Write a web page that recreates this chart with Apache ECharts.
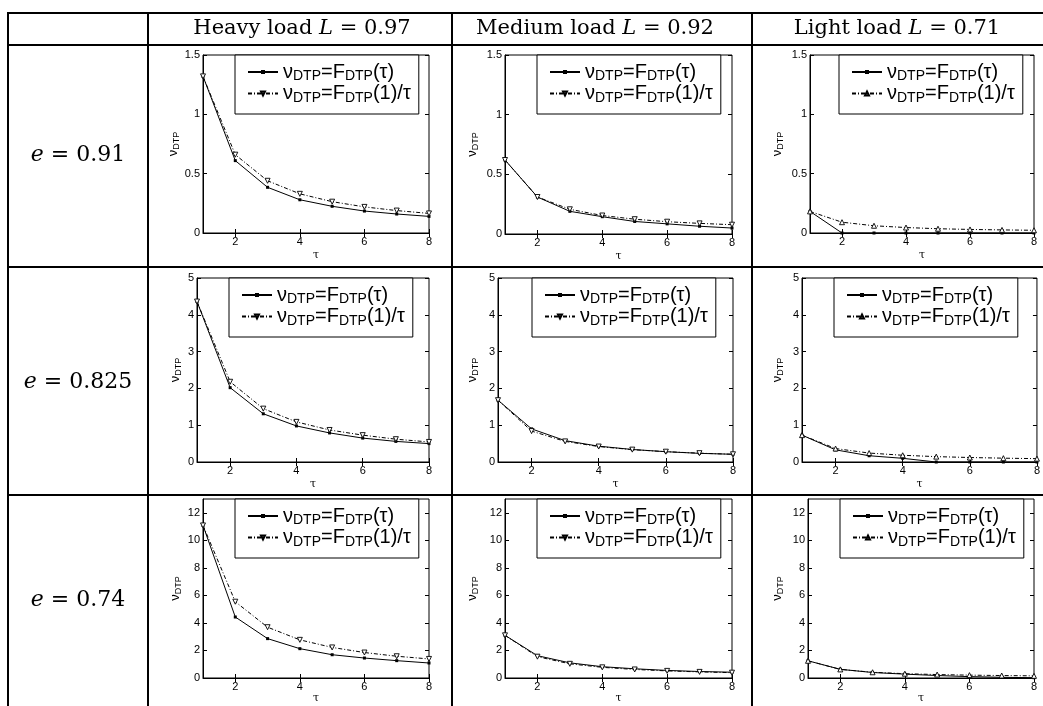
<!DOCTYPE html>
<html>
<head>
<meta charset="utf-8">
<script src="https://cdn.jsdelivr.net/npm/echarts@6/dist/echarts.min.js"></script>
<style>
html, body { margin: 0; padding: 0; background: #fff; }
#main { width: 1043px; height: 706px; }
</style>
</head>
<body>
<div id="main"></div>
<script>
// x axis (tau) and its labelled ticks
var taus = [1, 2, 3, 4, 5, 6, 7, 8];
var xTicks = [2, 4, 6, 8];

// table headers
var loadNames = ['Heavy load', 'Medium load', 'Light load'];
var loadValues = ['0.97', '0.92', '0.71'];
var eValues = ['0.91', '0.825', '0.74'];

// y axis range per table row
var yMax = [1.5, 5, 13];
var yTicks = [[0, 0.5, 1, 1.5], [0, 1, 2, 3, 4, 5], [0, 2, 4, 6, 8, 10, 12]];

// e = 0.91
var heavy91Fdtp = [1.32, 0.61, 0.385, 0.28, 0.225, 0.185, 0.16, 0.14];
var heavy91Ratio = [1.32, 0.66, 0.44, 0.33, 0.264, 0.22, 0.189, 0.165];
var medium91Fdtp = [0.62, 0.31, 0.19, 0.145, 0.105, 0.085, 0.065, 0.05];
var medium91Ratio = [0.62, 0.31, 0.207, 0.155, 0.124, 0.103, 0.089, 0.078];
var light91Fdtp = [0.182, 0, 0, 0, 0, 0, 0, 0];
var light91Ratio = [0.182, 0.091, 0.061, 0.046, 0.036, 0.03, 0.026, 0.023];
// e = 0.825
var heavy825Fdtp = [4.36, 2.02, 1.31, 0.98, 0.79, 0.65, 0.56, 0.5];
var heavy825Ratio = [4.36, 2.18, 1.45, 1.09, 0.87, 0.73, 0.62, 0.545];
var medium825Fdtp = [1.68, 0.9, 0.58, 0.43, 0.34, 0.28, 0.235, 0.21];
var medium825Ratio = [1.68, 0.84, 0.56, 0.42, 0.336, 0.28, 0.24, 0.21];
var light825Fdtp = [0.73, 0.33, 0.17, 0.1, 0, 0, 0, 0];
var light825Ratio = [0.73, 0.365, 0.243, 0.183, 0.146, 0.122, 0.104, 0.091];
// e = 0.74
var heavy74Fdtp = [11.08, 4.43, 2.86, 2.13, 1.69, 1.45, 1.26, 1.09];
var heavy74Ratio = [11.08, 5.54, 3.69, 2.77, 2.22, 1.85, 1.58, 1.385];
var medium74Fdtp = [3.1, 1.62, 1.1, 0.82, 0.67, 0.55, 0.47, 0.42];
var medium74Ratio = [3.1, 1.55, 1.03, 0.775, 0.62, 0.517, 0.443, 0.388];
var light74Fdtp = [1.25, 0.63, 0.4, 0.28, 0.18, 0.1, 0.05, 0.02];
var light74Ratio = [1.25, 0.625, 0.417, 0.313, 0.25, 0.208, 0.179, 0.156];

var panels = [
  [heavy91Fdtp, heavy91Ratio], [medium91Fdtp, medium91Ratio], [light91Fdtp, light91Ratio],
  [heavy825Fdtp, heavy825Ratio], [medium825Fdtp, medium825Ratio], [light825Fdtp, light825Ratio],
  [heavy74Fdtp, heavy74Ratio], [medium74Fdtp, medium74Ratio], [light74Fdtp, light74Ratio]
];

// layout (pixels): plot boxes, legend corners
var plotBox = [
  [203, 55, 226, 178], [505, 55, 227, 179], [810, 55, 224, 178],
  [197, 278, 232, 184], [498, 278, 235, 184], [802, 278, 236, 184],
  [203, 499, 226, 179], [505, 499, 227, 179], [808, 499, 226, 179]
];
var legendAt = [
  [235, 55], [537, 55], [839, 55],
  [229, 278], [532, 278], [834, 278],
  [235, 499], [537, 499], [840, 499]
];
var yNameRight = [183, 480, 785];
var xNameGap = [17, 17, 15];
var colLines = [8, 148, 452, 752];
var rowLines = [13, 45, 267, 495];
var headerX = [302, 595, 897];
var rowLabelY = [155, 382, 600];

var sansFont = 'Liberation Sans';
var serifFont = 'DejaVu Serif';

var grid = [], xAxis = [], yAxis = [], series = [], legend = [];

function legendText (name) {
  if (name.charAt(0) === 'f') return '{v|ν}{s|DTP}{t|=F}{s|DTP}{t|(τ)}';
  return '{v|ν}{s|DTP}{t|=F}{s|DTP}{t|(1)/τ}';
}

for (var i = 0; i < 9; i++) {
  var r = Math.floor(i / 3), c = i % 3;
  var b = plotBox[i];
  grid.push({
    left: b[0], top: b[1], width: b[2], height: b[3],
    show: true, borderColor: '#000', borderWidth: 1, backgroundColor: 'transparent'
  });
  // bottom / left axes with labels
  xAxis.push({
    type: 'value', gridIndex: i, min: 1, max: 8,
    axisLine: { show: true, onZero: false, lineStyle: { color: '#000', width: 1 } },
    axisTick: { show: true, inside: true, length: 4, customValues: xTicks, lineStyle: { color: '#000' } },
    axisLabel: { customValues: xTicks, fontSize: 11, fontFamily: sansFont, color: '#000', margin: 3 },
    splitLine: { show: false },
    name: 'τ', nameLocation: 'middle', nameGap: xNameGap[r],
    nameTextStyle: { fontSize: 11, fontFamily: serifFont, color: '#000', verticalAlign: 'top' }
  });
  yAxis.push({
    type: 'value', gridIndex: i, min: 0, max: yMax[r],
    axisLine: { show: true, onZero: false, lineStyle: { color: '#000', width: 1 } },
    axisTick: { show: true, inside: true, length: 4, customValues: yTicks[r], lineStyle: { color: '#000' } },
    axisLabel: { customValues: yTicks[r], fontSize: 11, fontFamily: sansFont, color: '#000', margin: 3 },
    splitLine: { show: false },
    name: '{v|ν}{s|DTP}', nameLocation: 'middle', nameGap: b[0] - yNameRight[c],
    nameTextStyle: {
      fontFamily: sansFont, color: '#000',
      rich: {
        v: { fontSize: 13, fontFamily: sansFont, lineHeight: 15 },
        s: { fontSize: 9, fontFamily: sansFont, lineHeight: 9, verticalAlign: 'bottom' }
      }
    }
  });
}
// mirrored ticks on top / right of each box
for (var j = 0; j < 9; j++) {
  var rr = Math.floor(j / 3);
  xAxis.push({
    type: 'value', gridIndex: j, min: 1, max: 8, position: 'top',
    axisLine: { show: false },
    axisTick: { show: true, inside: true, length: 4, customValues: xTicks, lineStyle: { color: '#000' } },
    axisLabel: { show: false }, splitLine: { show: false }
  });
  yAxis.push({
    type: 'value', gridIndex: j, min: 0, max: yMax[rr], position: 'right',
    axisLine: { show: false },
    axisTick: { show: true, inside: true, length: 4, customValues: yTicks[rr], lineStyle: { color: '#000' } },
    axisLabel: { show: false }, splitLine: { show: false }
  });
}

for (var k = 0; k < 9; k++) {
  var col = k % 3;
  var fdtp = panels[k][0], ratio = panels[k][1];
  series.push({
    type: 'line', name: 'f' + k, xAxisIndex: k, yAxisIndex: k,
    data: taus.map(function (t, n) { return [t, fdtp[n]] }),
    symbol: 'rect', symbolSize: 3, showAllSymbol: true,
    lineStyle: { color: '#000', width: 1 },
    itemStyle: { color: '#000' }
  });
  series.push({
    type: 'line', name: 'r' + k, xAxisIndex: k, yAxisIndex: k,
    data: taus.map(function (t, n) { return [t, ratio[n]] }),
    symbol: 'triangle', symbolSize: 5, symbolRotate: col < 2 ? 180 : 0, showAllSymbol: true,
    lineStyle: { color: '#000', width: 1, type: [4, 2, 1, 2] },
    itemStyle: { color: '#fff', borderColor: '#000', borderWidth: 0.9 }
  });
  legend.push({
    data: ['f' + k, 'r' + k], orient: 'vertical',
    left: legendAt[k][0], top: legendAt[k][1],
    itemWidth: 30, itemHeight: 5, itemGap: 0,
    padding: [7, 8, 9, 12],
    borderColor: '#000', borderWidth: 1, backgroundColor: '#fff',
    selectedMode: false, formatter: legendText,
    textStyle: {
      color: '#000', fontFamily: sansFont, fontSize: 20,
      rich: {
        v: { fontSize: 20, fontFamily: sansFont, lineHeight: 23 },
        t: { fontSize: 20, fontFamily: sansFont, lineHeight: 23 },
        s: { fontSize: 14, fontFamily: sansFont, lineHeight: 14, verticalAlign: 'bottom' }
      }
    }
  });
}

// table rules and header texts
var graphic = [];
colLines.forEach(function (x) {
  graphic.push({ type: 'line', z: 100, shape: { x1: x, y1: rowLines[0] - 1, x2: x, y2: 706 }, style: { stroke: '#000', lineWidth: 2 } });
});
rowLines.forEach(function (y) {
  graphic.push({ type: 'line', z: 100, shape: { x1: colLines[0] - 1, y1: y, x2: 1043, y2: y }, style: { stroke: '#000', lineWidth: 2 } });
});
loadNames.forEach(function (nm, n) {
  graphic.push({
    type: 'text', x: headerX[n], y: 29, z: 100,
    style: {
      text: '{n|' + nm + ' }{i|L}{n| = ' + loadValues[n] + '}',
      align: 'center', verticalAlign: 'middle', fill: '#000',
      rich: {
        n: { fontFamily: serifFont, fontSize: 21, fill: '#000' },
        i: { fontFamily: serifFont, fontSize: 21, fontStyle: 'italic', fill: '#000' }
      }
    }
  });
});
eValues.forEach(function (ev, n) {
  graphic.push({
    type: 'text', x: 78, y: rowLabelY[n], z: 100,
    style: {
      text: '{i|e}{n| = ' + ev + '}',
      align: 'center', verticalAlign: 'middle', fill: '#000',
      rich: {
        n: { fontFamily: serifFont, fontSize: 22, fill: '#000' },
        i: { fontFamily: serifFont, fontSize: 22, fontStyle: 'italic', fill: '#000' }
      }
    }
  });
});

var chart = echarts.init(document.getElementById('main'));
chart.setOption({
  animation: false,
  backgroundColor: '#fff',
  grid: grid,
  xAxis: xAxis,
  yAxis: yAxis,
  legend: legend,
  series: series,
  graphic: graphic
});
</script>
</body>
</html>
